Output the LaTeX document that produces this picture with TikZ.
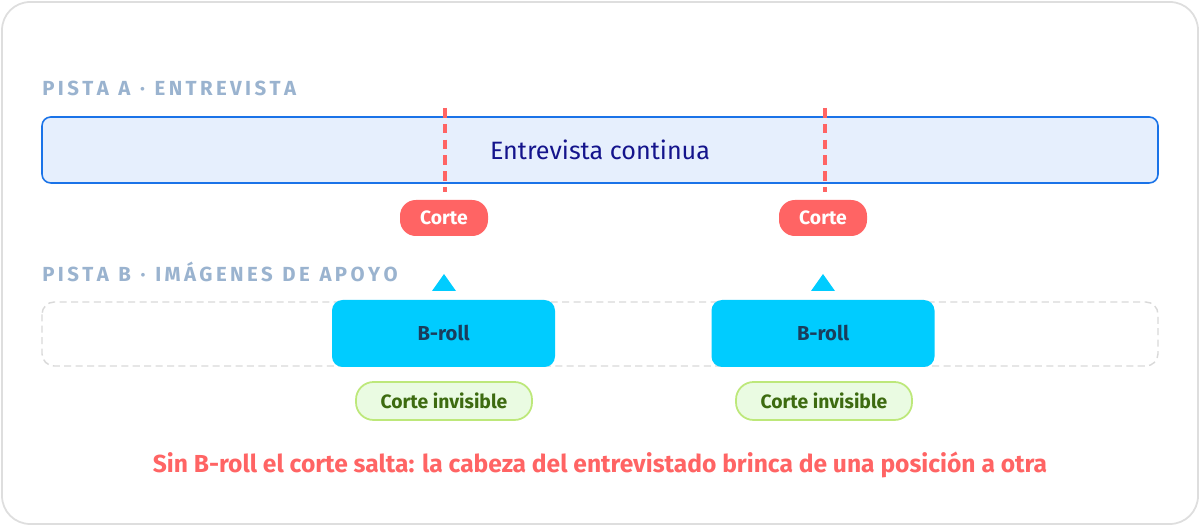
\documentclass[tikz,border=0pt]{standalone}
\usepackage{fontspec}
\setmainfont{Fira Sans}
\begin{document}
\definecolor{lbl}{HTML}{9AB3CF}
\definecolor{trkA}{HTML}{E6EFFD}
\definecolor{trkAb}{HTML}{1A73E8}
\definecolor{navy}{HTML}{14148C}
\definecolor{redc}{HTML}{FF6464}
\definecolor{cyanc}{HTML}{00CCFF}
\definecolor{broll}{HTML}{1A3D5C}
\definecolor{gfill}{HTML}{EAFBE2}
\definecolor{gbord}{HTML}{BDE87A}
\definecolor{gtext}{HTML}{3D6B10}
\begin{tikzpicture}[x=0.02cm,y=-0.02cm,
  lab/.style={anchor=west,text=lbl,font=\bfseries\fontsize{11.6}{14}\selectfont},
  cut/.style={fill=redc,text=white,rounded corners=9pt,minimum width=88*0.02cm,minimum height=36*0.02cm,inner sep=0pt,font=\bfseries\fontsize{11}{13}\selectfont},
  br/.style={fill=cyanc,text=broll,rounded corners=6pt,minimum width=223*0.02cm,minimum height=67*0.02cm,inner sep=0pt,font=\bfseries\fontsize{11.5}{13}\selectfont},
  inv/.style={fill=gfill,draw=gbord,line width=1pt,text=gtext,rounded corners=10pt,minimum width=176*0.02cm,minimum height=38*0.02cm,inner sep=0pt,font=\bfseries\fontsize{11}{13}\selectfont},
  cutline/.style={draw=redc,line width=2pt,dash pattern=on 5.5pt off 3.5pt},
  tri/.style={fill=cyanc,draw=none}]
\useasboundingbox (0,0) rectangle (1200,526);
\draw[draw=black!13,fill=white,line width=1pt,rounded corners=16pt] (2,2) rectangle (1198,524);
\node[lab,inner sep=0pt] (la) at (42,88) {P\,I\,S\,T\,A\ \ A\ \ ·\ \ E\,N\,T\,R\,E\,V\,I\,S\,T\,A};
\draw[fill=trkA,draw=trkAb,line width=0.9pt,rounded corners=5pt] (42,117) rectangle (1158,183);
\node[text=navy,font=\fontsize{14.3}{17}\selectfont] (ta) at (600,150) {Entrevista continua};
\coordinate (d1t) at (445,108); \coordinate (d1b) at (445,192);
\coordinate (d2t) at (825,108); \coordinate (d2b) at (825,192);
\draw[cutline] (d1t) -- (d1b);
\draw[cutline] (d2t) -- (d2b);
\node[cut] (c1) at (444,218) {Corte};
\node[cut] (c2) at (823,218) {Corte};
\node[lab,inner sep=0pt] (lb) at (42,272) {P\,I\,S\,T\,A\ \ B\ \ ·\ \ I\,M\,Á\,G\,E\,N\,E\,S\ \ D\,E\ \ A\,P\,O\,Y\,O};
\draw[draw=black!15,dash pattern=on 4pt off 2.5pt,line width=0.8pt,rounded corners=7pt] (42,302) rectangle (1158,366);
\fill[tri] (444,274) -- (456,291) -- (432,291) -- cycle;
\fill[tri] (823,274) -- (835,291) -- (811,291) -- cycle;
\node[br] (b1) at (443.5,333.5) {B-roll};
\node[br] (b2) at (823,333.5) {B-roll};
\node[inv] (i1) at (444,401) {Corte invisible};
\node[inv] (i2) at (824,401) {Corte invisible};
\node[text=redc,font=\bfseries\fontsize{14}{17}\selectfont] (note) at (600,465) {Sin B-roll el corte salta: la cabeza del entrevistado brinca de una posición a otra};
\end{tikzpicture}
\end{document}
